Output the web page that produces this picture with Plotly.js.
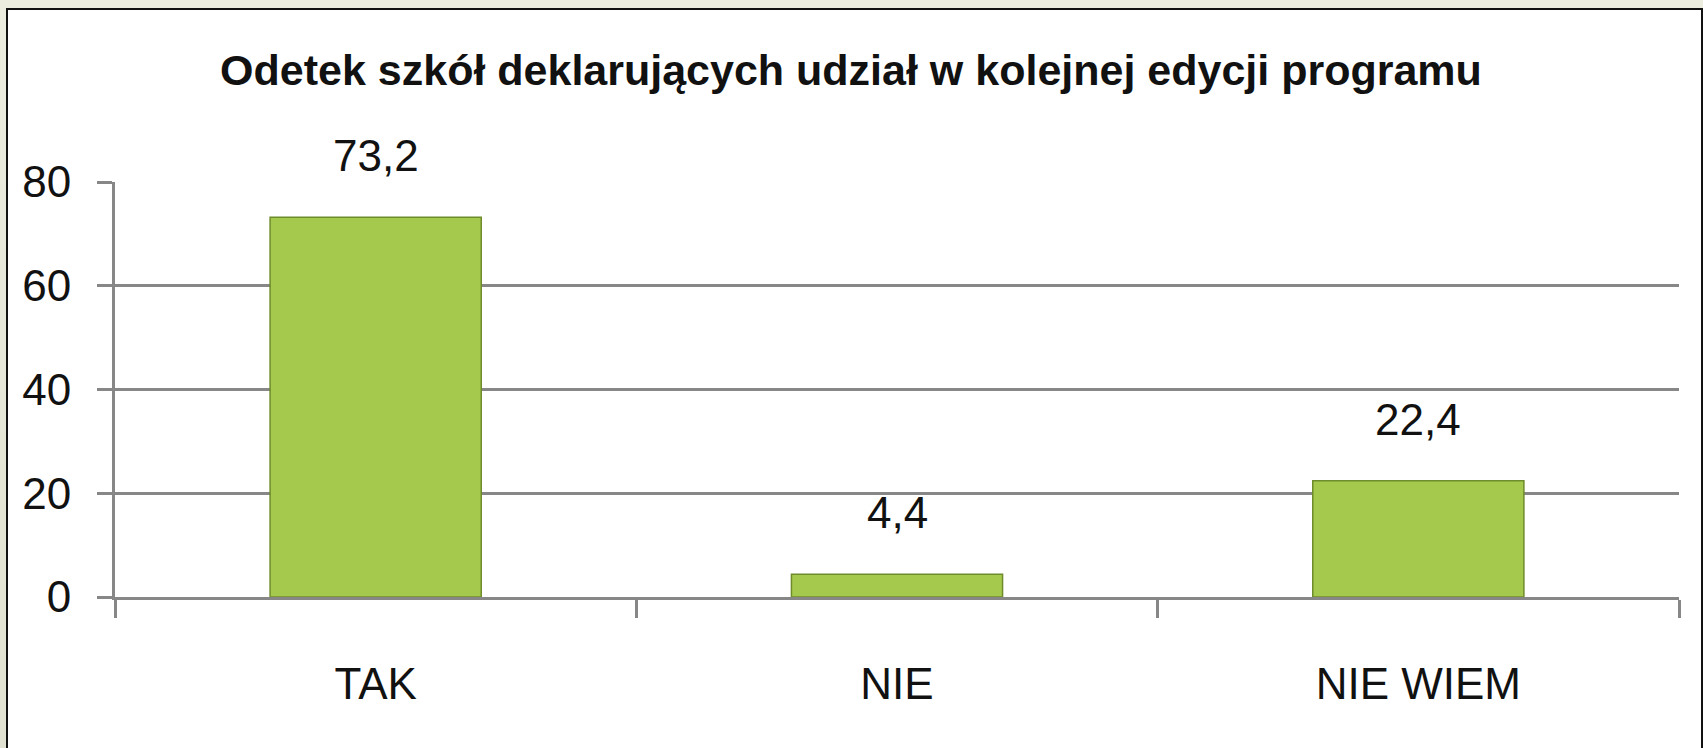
<!DOCTYPE html>
<html>
<head>
<meta charset="utf-8">
<script src="https://cdn.plot.ly/plotly-3.0.1.min.js"></script>
<style>
  html, body { margin: 0; padding: 0; width: 1703px; height: 748px; overflow: hidden;
    background: linear-gradient(#ececdf, #e2e2d2); }
  #frame { position: absolute; left: 6px; top: 8px; width: 1693px; height: 760px;
    background: #ffffff; border: 2px solid #111; }
  #chart { position: absolute; left: 0; top: 0; width: 1703px; height: 748px; }
</style>
</head>
<body>
<div id="frame"></div>
<div id="chart"></div>
<script>
const categories = ["TAK", "NIE", "NIE WIEM"];
const values = [73.2, 4.4, 22.4];
const yTickValues = [0, 20, 40, 60, 80];
const chartTitle = "Odetek szkół deklarujących udział w kolejnej edycji programu";

const FONT = "Liberation Sans, Arial, sans-serif";
const GRID = "#878787";

const trace = {
  type: "bar",
  x: categories,
  y: values,
  marker: { color: "#a5c94c", line: { color: "#6f8c2c", width: 1.5 } },
  hoverinfo: "x+y"
};

const annotations = categories.map((c, i) => ({
  x: c, y: values[i], xref: "x", yref: "y",
  text: values[i].toFixed(1).replace(".", ","),
  showarrow: false, yanchor: "bottom", yshift: 35,
  font: { family: FONT, size: 44, color: "#111" }
}));

const layout = {
  width: 1703, height: 748,
  paper_bgcolor: "rgba(0,0,0,0)",
  plot_bgcolor: "rgba(0,0,0,0)",
  margin: { l: 115, r: 24, t: 182, b: 151 },
  separators: ", ",
  showlegend: false,
  bargap: 0.595,
  title: {
    text: chartTitle,
    font: { family: FONT, size: 43, color: "#111", weight: "bold" },
    xref: "container", x: 0.4997, xanchor: "center",
    yref: "container", y: 0.906, yanchor: "middle"
  },
  xaxis: {
    type: "category",
    tickson: "boundaries",
    ticks: "outside", ticklen: 18, tickwidth: 3, tickcolor: GRID,
    showline: true, linecolor: GRID, linewidth: 3,
    showgrid: false,
    ticklabelstandoff: 46,
    tickfont: { family: FONT, size: 44, color: "#111" }
  },
  yaxis: {
    range: [0, 80],
    tickvals: yTickValues,
    ticks: "outside", ticklen: 15, tickwidth: 3, tickcolor: GRID,
    showline: true, linecolor: GRID, linewidth: 3,
    showgrid: true, gridcolor: GRID, gridwidth: 3,
    zeroline: false,
    ticklabelstandoff: 17,
    tickfont: { family: FONT, size: 44, color: "#111" }
  },
  annotations: annotations
};

Plotly.newPlot("chart", [trace], layout, { displayModeBar: false, staticPlot: true });
</script>
</body>
</html>
